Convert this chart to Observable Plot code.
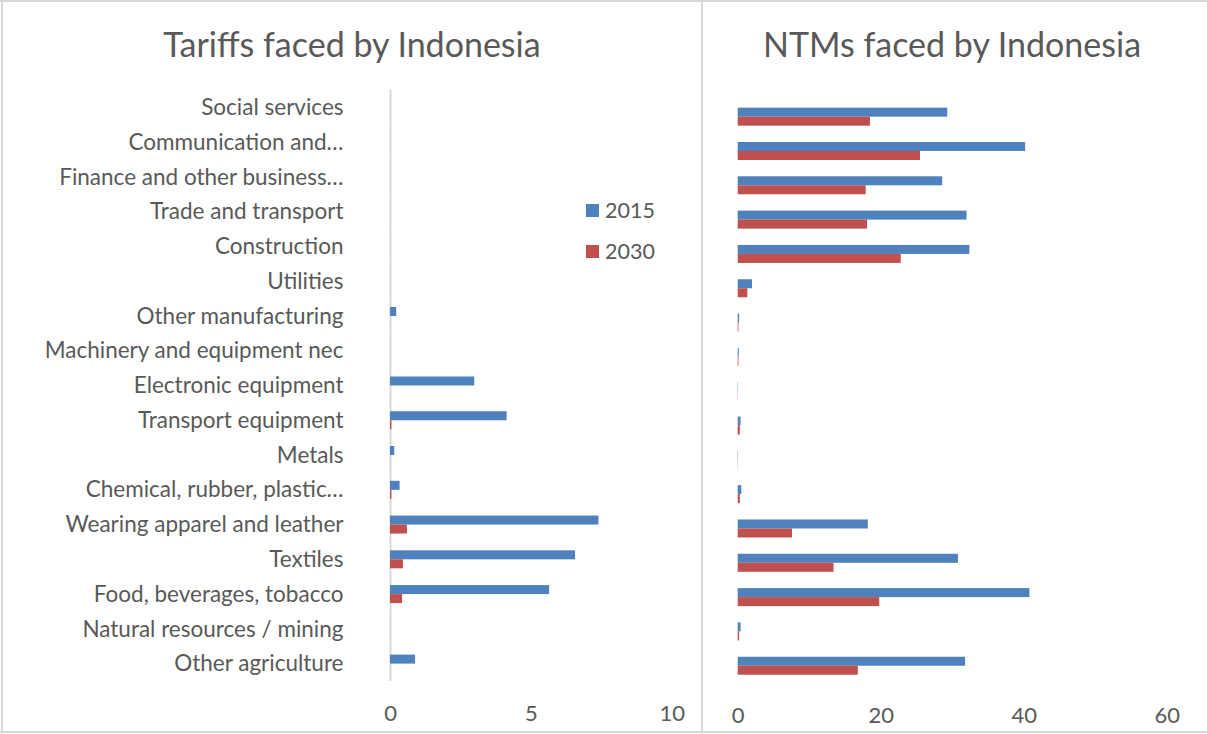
<!DOCTYPE html>
<html>
<head>
<meta charset="utf-8">
<script src="https://cdn.jsdelivr.net/npm/d3@7"></script>
<script src="https://cdn.jsdelivr.net/npm/@observablehq/plot@0.6"></script>
<style>
  html, body { margin: 0; padding: 0; background: #fff; }
  #wrap { position: relative; width: 1207px; height: 734px; overflow: hidden; background: #fff; font-family: Lato, "Open Sans", sans-serif; color: #595959; }
  .line { position: absolute; background: #d9d9d9; }
  .title { position: absolute; top: 24px; font-size: 34px; line-height: 40px; white-space: nowrap; transform: translateX(-50%); }
  .panel { position: absolute; top: 0; }
  .leg { position: absolute; font-size: 21.5px; line-height: 26px; display: flex; align-items: center; }
  .leg span.sw { display: inline-block; width: 13px; height: 13px; margin-right: 6px; }
</style>
</head>
<body>
<div id="wrap">
  <div class="line" style="left:0;top:0;width:1207px;height:2px"></div>
  <div class="line" style="left:1px;top:0;width:2px;height:734px"></div>
  <div class="line" style="left:0;top:731px;width:1207px;height:2px"></div>
  <div class="line" style="left:701px;top:0;width:2px;height:734px"></div>
  <div id="left" class="panel" style="left:0"></div>
  <div id="right" class="panel" style="left:702px"></div>
  <div class="title" style="left:352px" id="t1"></div>
  <div class="title" style="left:952px" id="t2"></div>
  <div id="legend"></div>
</div>
<script>
const categories = [
  "Social services",
  "Communication and…",
  "Finance and other business…",
  "Trade and transport",
  "Construction",
  "Utilities",
  "Other manufacturing",
  "Machinery and equipment nec",
  "Electronic equipment",
  "Transport equipment",
  "Metals",
  "Chemical, rubber, plastic…",
  "Wearing apparel and leather",
  "Textiles",
  "Food, beverages, tobacco",
  "Natural resources / mining",
  "Other agriculture"
];
const years = ["2015", "2030"];
const colors = ["#4F81BD", "#C0504D"];

const tariffs2015 = [0, 0, 0, 0, 0, 0, 0.22, 0, 2.99, 4.14, 0.15, 0.34, 7.4, 6.57, 5.65, 0, 0.89];
const tariffs2030 = [0, 0, 0, 0, 0, 0, 0, 0, 0, 0.05, 0, 0.05, 0.6, 0.46, 0.43, 0, 0];
const ntms2015 = [29.3, 40.2, 28.6, 32.0, 32.4, 2.0, 0.2, 0.15, 0.05, 0.4, 0.05, 0.5, 18.2, 30.8, 40.8, 0.4, 31.8];
const ntms2030 = [18.5, 25.5, 17.9, 18.1, 22.8, 1.35, 0.1, 0.1, 0.03, 0.3, 0.03, 0.3, 7.6, 13.4, 19.8, 0.2, 16.8];

const titles = ["Tariffs faced by Indonesia", "NTMs faced by Indonesia"];
const tariffTicks = [0, 5, 10];
const ntmTicks = [0, 20, 40, 60];

function rowsOf(a, b) {
  return categories.flatMap((c, i) => [
    {category: c, year: years[0], value: a[i]},
    {category: c, year: years[1], value: b[i]}
  ]);
}

function panel({a, b, ticks, width, marginLeft, marginRight, marginTop, marginBottom, labels, yPad}) {
  const rows = rowsOf(a, b);
  return Plot.plot({
    width, height: 734,
    marginLeft, marginRight, marginTop, marginBottom,
    style: {fontFamily: "Lato, 'Open Sans', sans-serif", fontSize: "22px", color: "#595959", background: "transparent", overflow: "visible"},
    x: {domain: [ticks[0], ticks[ticks.length - 1]], ticks, tickSize: 0, tickPadding: 24, label: null},
    y: {domain: years, axis: null, paddingInner: 0, paddingOuter: yPad, round: false},
    fy: {domain: categories, padding: 0, round: false, axis: null, label: null},
    color: {domain: years, range: colors},
    marks: [
      labels ? Plot.ruleX([0], {stroke: "#d9d9d9", strokeWidth: 2}) : null,
      Plot.barX(rows, {x: "value", y: "year", fy: "category", fill: "year"}),
      labels ? Plot.axisFy({anchor: "left", tickSize: 0, tickPadding: 47, label: null, fontSize: 22.5}) : null
    ]
  });
}

document.getElementById("left").appendChild(panel({
  a: tariffs2015, b: tariffs2030, ticks: tariffTicks,
  width: 702, marginLeft: 390, marginRight: 30.3, marginTop: 90, marginBottom: 53,
  labels: true, yPad: 0.93
}));
document.getElementById("right").appendChild(panel({
  a: ntms2015, b: ntms2030, ticks: ntmTicks,
  width: 505, marginLeft: 35.7, marginRight: 40.3, marginTop: 99.5, marginBottom: 51.1,
  labels: false, yPad: 0.906
}));

document.getElementById("t1").textContent = titles[0];
document.getElementById("t2").textContent = titles[1];

const legend = document.getElementById("legend");
years.forEach((y, i) => {
  const d = document.createElement("div");
  d.className = "leg";
  d.style.left = "586px";
  d.style.top = (197 + i * 41) + "px";
  const sw = document.createElement("span");
  sw.className = "sw";
  sw.style.background = colors[i];
  d.appendChild(sw);
  d.appendChild(document.createTextNode(y));
  legend.appendChild(d);
});
</script>
</body>
</html>
